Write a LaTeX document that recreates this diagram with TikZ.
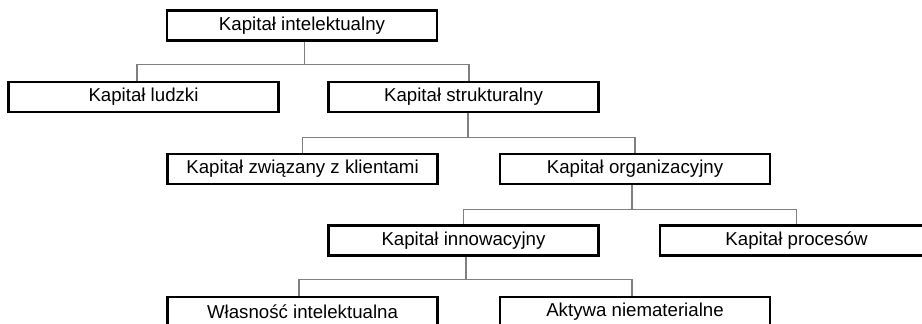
\documentclass[tikz,border=0pt]{standalone}
\usepackage{fontspec}
\setmainfont{Liberation Sans}
\begin{document}
\begin{tikzpicture}[x=0.75pt,y=-0.75pt,
		box/.style={draw=black,line width=1.9pt,fill=white,minimum width=202.5pt,minimum height=22.5pt,inner sep=0pt,font=\fontsize{14}{16}\selectfont},
		link/.style={draw=gray,line width=1.1pt}]
			\path[use as bounding box,clip] (0,0) rectangle (922,324);
			% level 0 and 1
			\node[box] (intel) at (302,25.5) {Kapitał intelektualny};
			\node[box] (ludzki) at (143.5,97) {Kapitał ludzki};
			\node[box] (strukt) at (463.5,97) {Kapitał strukturalny};
			% level 2
			\node[box] (klient) at (302.5,169) {Kapitał związany z klientami};
			\node[box] (organiz) at (635,169) {Kapitał organizacyjny};
			% level 3
			\node[box] (innow) at (463.5,240.5) {Kapitał innowacyjny};
			\node[box,minimum width=204.75pt] (proces) at (796.5,240.5) {Kapitał procesów};
			% level 4
			\node[box] (wlasn) at (302.5,312) {Własność intelektualna};
			\node[box] (aktywa) at (635,312) {Aktywa niematerialne};
			\draw[link] ([xshift=2pt]intel.south) -- ++(0,23) coordinate (j1);
			\draw[link] ([xshift=-4.9pt]ludzki.north) |- (j1) -| ([xshift=4.1pt]strukt.north);
			\draw[link] ([xshift=3.4pt]strukt.south) -- ++(0,24) coordinate (j2);
			\draw[link] (klient.north) |- (j2) -| (organiz.north);
			\draw[link] ([xshift=-2.2pt]organiz.south) -- ++(0,24) coordinate (j3);
			\draw[link] (innow.north) |- (j3) -| (proces.north);
			\draw[link] ([xshift=1.9pt]innow.south) -- ++(0,23) coordinate (j4);
			\draw[link] ([xshift=-2.6pt]wlasn.north) |- (j4) -| ([xshift=-2.2pt]aktywa.north);
		\end{tikzpicture}
\end{document}
